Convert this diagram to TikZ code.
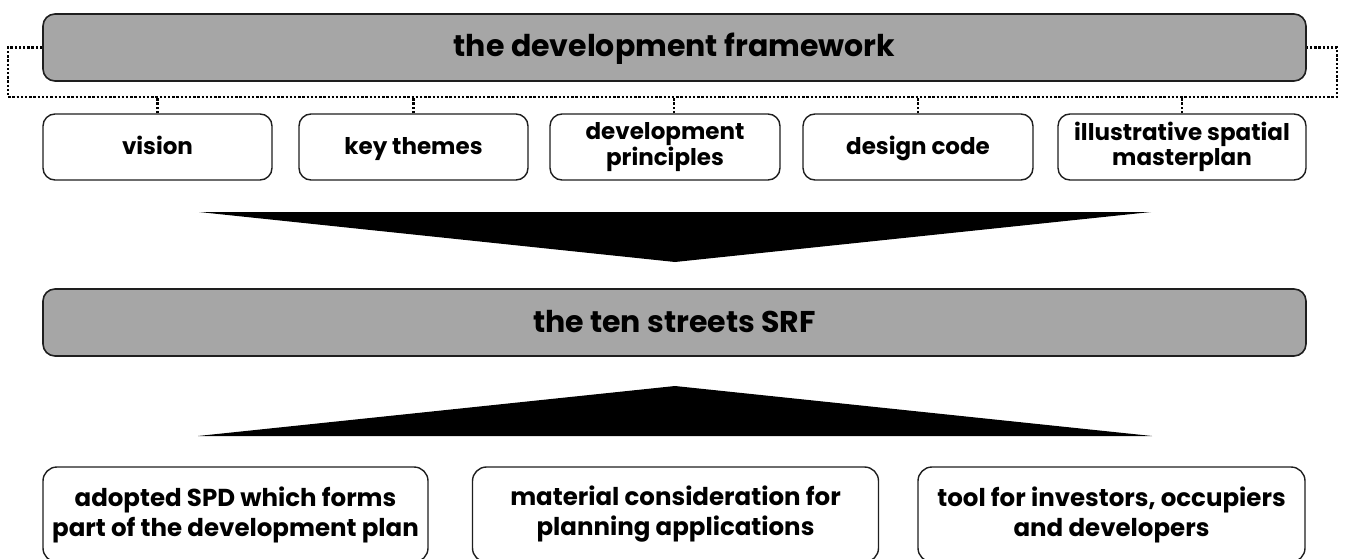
\documentclass[tikz,border=0pt]{standalone}
\usepackage{fontspec}
\setmainfont{Poppins}
\definecolor{boxgray}{RGB}{166,166,166}
\definecolor{edge}{RGB}{30,30,30}
\begin{document}
\begin{tikzpicture}[x=1pt,y=-1pt,
  bigbox/.style={draw=edge,line width=1.6pt,fill=boxgray,rounded corners=12pt,
    minimum width=1263pt,minimum height=67pt,inner sep=0pt,
    text height=22pt,text depth=3pt,
    font=\fontsize{30}{33}\selectfont\bfseries},
  smallbox/.style={draw=edge,line width=1.4pt,fill=white,rounded corners=12pt,
    minimum height=66pt,inner sep=0pt,align=center,
    font=\fontsize{23}{25.5}\selectfont\bfseries},
  oneline/.style={text height=16pt,text depth=2pt},
  outbox/.style={draw=edge,line width=1.4pt,fill=white,rounded corners=14pt,
    minimum height=95pt,inner sep=0pt,align=center,
    font=\fontsize{24.5}{30}\selectfont\bfseries},
  busline/.style={draw=black,line width=2.5pt,dash pattern=on 2.4pt off 1.8pt},
  funnel/.style={fill=black}]
\useasboundingbox (0,0) rectangle (1346,559);

% top framework box
\node[bigbox] (fw) at (674.5,47.5) {the development framework};

% component boxes
\node[smallbox,oneline,minimum width=229pt] (vis) at (157.5,147) {vision};
\node[smallbox,oneline,minimum width=229pt] (kt)  at (413.5,147) {key themes};
\node[smallbox,minimum width=230pt] (dp)  at (665,147)   {development\\principles};
\node[smallbox,oneline,minimum width=230pt] (dc)  at (918,147)   {design code};
\node[smallbox,minimum width=248pt] (ism) at (1182,147)  {illustrative spatial\\masterplan};

% dotted bus
\coordinate (bl) at (8,97);
\coordinate (br) at (1337,97);
\draw[busline] (fw.west) -- (fw.west -| bl) -- (bl) -- (br) -- (fw.east -| br) -- (fw.east);
\draw[busline] (vis.north) -- (vis.north |- bl);
\draw[busline] (kt.north) -- (kt.north |- bl);
\draw[busline] ([xshift=9pt]dp.north) -- ([xshift=9pt]dp.north |- bl);
\draw[busline] (dc.north) -- (dc.north |- bl);
\draw[busline] (ism.north) -- (ism.north |- bl);

% first funnel
\fill[funnel] (199,212) -- (1151,212) -- (675,262) -- cycle;

% SRF box
\node[bigbox] (srf) at (674.5,322.5) {the ten streets SRF};

% second funnel
\fill[funnel] (675,386) -- (1152,436) -- (198,436) -- cycle;

% outcome boxes
\node[outbox,minimum width=385pt] (spd) at (235.5,514.5) {adopted SPD which forms\\part of the development plan};
\node[outbox,minimum width=406pt] (mat) at (675.5,514.5) {material consideration for\\planning applications};
\node[outbox,minimum width=387pt] (tool) at (1111.5,514.5) {tool for investors, occupiers\\and developers};
\end{tikzpicture}
\end{document}
